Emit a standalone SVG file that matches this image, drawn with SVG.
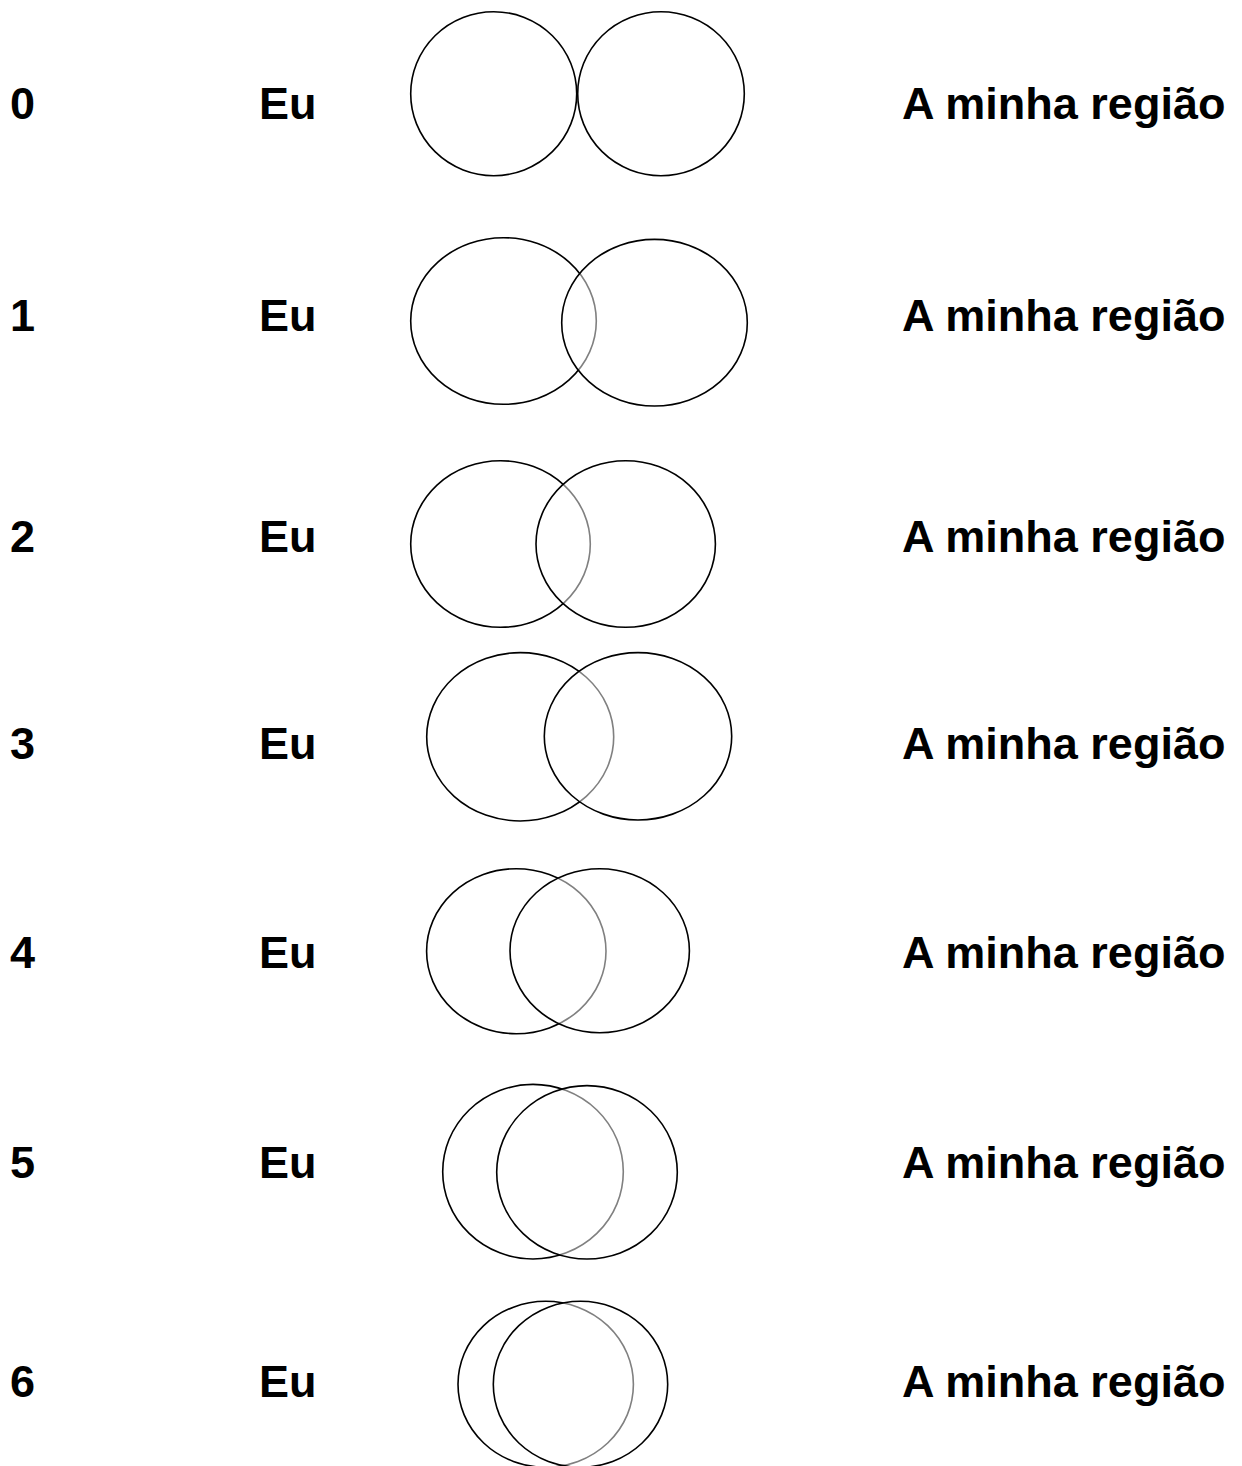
<svg xmlns="http://www.w3.org/2000/svg" width="1242" height="1466" viewBox="0 0 1242 1466">
<style>
text{font-family:"Liberation Sans",Arial,sans-serif;font-weight:bold;font-size:45px;fill:#000}
.l{fill:none;stroke:#000;stroke-width:1.6}
.r{fill:#fff;fill-opacity:0.5;stroke:#000;stroke-width:1.6}
</style>
<rect width="1242" height="1466" fill="#fff"/>
<g id="row0">
<text x="10" y="119">0</text><text x="259" y="119">Eu</text><text x="902" y="119">A minha região</text>
<ellipse class="l" cx="493.7" cy="93.7" rx="83" ry="82"/>
<ellipse class="r" cx="661" cy="93.7" rx="83.3" ry="82"/>
</g>
<g id="row1">
<text x="10" y="331">1</text><text x="259" y="331">Eu</text><text x="902" y="331">A minha região</text>
<ellipse class="l" cx="503.5" cy="321" rx="92.8" ry="83.3"/>
<ellipse class="r" cx="654.5" cy="322.7" rx="92.8" ry="83.3"/>
</g>
<g id="row2">
<text x="10" y="552">2</text><text x="259" y="552">Eu</text><text x="902" y="552">A minha região</text>
<ellipse class="l" cx="500.5" cy="544" rx="89.8" ry="83.3"/>
<ellipse class="r" cx="625.7" cy="544" rx="89.7" ry="83.3"/>
</g>
<g id="row3">
<text x="10" y="759">3</text><text x="259" y="759">Eu</text><text x="902" y="759">A minha região</text>
<ellipse class="l" cx="520.2" cy="736.8" rx="93.5" ry="84.2"/>
<ellipse class="r" cx="638" cy="736.3" rx="93.7" ry="83.7"/>
</g>
<g id="row4">
<text x="10" y="968">4</text><text x="259" y="968">Eu</text><text x="902" y="968">A minha região</text>
<ellipse class="l" cx="516.3" cy="951.2" rx="89.7" ry="82.5"/>
<ellipse class="r" cx="599.7" cy="950.7" rx="89.7" ry="82"/>
</g>
<g id="row5">
<text x="10" y="1178">5</text><text x="259" y="1178">Eu</text><text x="902" y="1178">A minha região</text>
<ellipse class="l" cx="533" cy="1171.7" rx="90.3" ry="87.3"/>
<ellipse class="r" cx="587" cy="1172.3" rx="90.3" ry="86.7"/>
</g>
<g id="row6">
<text x="10" y="1397">6</text><text x="259" y="1397">Eu</text><text x="902" y="1397">A minha região</text>
<ellipse class="l" cx="545.7" cy="1384.3" rx="87.7" ry="83"/>
<ellipse class="r" cx="580.5" cy="1384.3" rx="87.2" ry="83"/>
</g>
<g id="connectors"></g>
</svg>
